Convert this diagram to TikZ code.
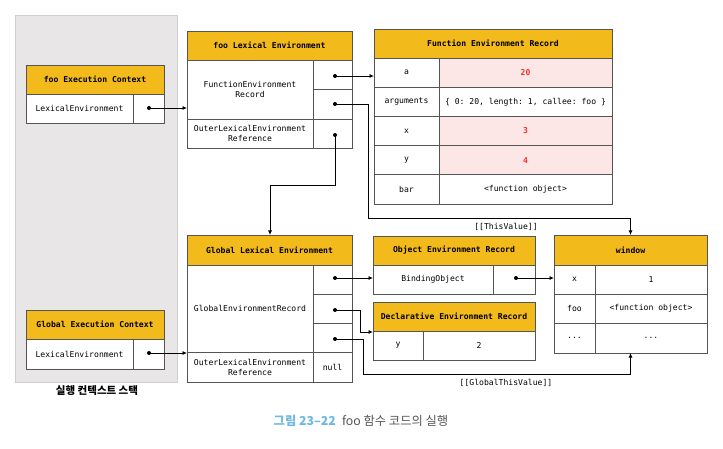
\documentclass[tikz,border=0pt]{standalone}
\usepackage{fontspec}
\setmonofont{DejaVu Sans Mono}
\newfontfamily\krfont{Noto Sans CJK KR}
\usetikzlibrary{arrows.meta}
\definecolor{hdr}{HTML}{F3BA1B}
\definecolor{pinkc}{HTML}{FDE6E6}
\definecolor{redc}{HTML}{EE3530}
\definecolor{lineg}{HTML}{555555}
\definecolor{panel}{HTML}{E8E6E7}
\definecolor{panelb}{HTML}{D0CECF}
\definecolor{capblue}{HTML}{6DB8E3}
\definecolor{capgray}{HTML}{555555}
\newcommand\mtxt{\ttfamily\fontsize{8.1}{10}\selectfont}
\newcommand\mbld{\ttfamily\bfseries\fontsize{8.1}{10}\selectfont}
\begin{document}
\begin{tikzpicture}[x=1pt,y=-1pt,
  cell/.style={draw=lineg, line width=0.9pt, fill=white, inner sep=0pt, outer sep=0pt, anchor=north west, align=center, font=\mtxt},
  hcell/.style={cell, fill=hdr, font=\mbld},
  pcell/.style={cell, fill=pinkc, text=redc, font=\mbld},
  dot/.style={circle, fill=black, inner sep=0pt, minimum size=4pt},
  conn/.style={line width=0.8pt, -{Latex[length=4.5pt,width=4pt]}},
  lbl/.style={font=\mtxt, inner sep=0pt}]
\useasboundingbox (0,0) rectangle (723,449);
% stack panel
\node[draw=panelb, fill=panel, line width=0.8pt, inner sep=0pt, anchor=north west, minimum width=162pt, minimum height=367pt] (panel) at (15,15) {};
\node[font=\krfont\bfseries\fontsize{10.5}{12}\selectfont, inner sep=0pt] (stacklbl) at (97,391) {실행 컨텍스트 스택};

% foo Execution Context
\node[hcell, minimum width=138pt, minimum height=29pt] (fecH) at (26,65) {foo Execution Context};
\node[cell, minimum width=107pt, minimum height=29pt] (fecL) at (26,94) {LexicalEnvironment};
\node[cell, minimum width=31pt, minimum height=29pt] (fecR) at (133,94) {};
\node[dot] (fec1) at (149,108) {};

% Global Execution Context
\node[hcell, minimum width=138pt, minimum height=29pt] (gecH) at (26,310) {Global Execution Context};
\node[cell, minimum width=107pt, minimum height=30pt] (gecL) at (26,339) {LexicalEnvironment};
\node[cell, minimum width=31pt, minimum height=30pt] (gecR) at (133,339) {};
\node[dot] (gec1) at (149,353) {};

% foo Lexical Environment
\node[hcell, minimum width=165pt, minimum height=29pt] (fleH) at (187,31) {foo Lexical Environment};
\node[cell, minimum width=126pt, minimum height=59pt] (fleF) at (187,60) {FunctionEnvironment\\Record};
\node[cell, minimum width=39pt, minimum height=29pt] (fleR1) at (313,60) {};
\node[cell, minimum width=39pt, minimum height=30pt] (fleR2) at (313,89) {};
\node[cell, minimum width=126pt, minimum height=29pt] (fleO) at (187,119) {OuterLexicalEnvironment\\Reference};
\node[cell, minimum width=39pt, minimum height=29pt] (fleR3) at (313,119) {};
\node[dot] (fle1) at (335,76) {};
\node[dot] (fle2) at (335,104) {};
\node[dot] (fle3) at (335,135) {};

% Function Environment Record
\node[hcell, minimum width=238pt, minimum height=29pt] (ferH) at (374,29) {Function Environment Record};
\node[cell, minimum width=65pt, minimum height=29.2pt] (ferK1) at (374,58) {a};
\node[pcell, minimum width=173pt, minimum height=29.2pt] (ferV1) at (439,58) {20};
\node[cell, minimum width=65pt, minimum height=29.2pt] (ferK2) at (374,87.2) {arguments};
\node[cell, minimum width=173pt, minimum height=29.2pt] (ferV2) at (439,87.2) {\{ 0: 20, length: 1, callee: foo \}};
\node[cell, minimum width=65pt, minimum height=29.2pt] (ferK3) at (374,116.4) {x};
\node[pcell, minimum width=173pt, minimum height=29.2pt] (ferV3) at (439,116.4) {3};
\node[cell, minimum width=65pt, minimum height=29.2pt] (ferK4) at (374,145.6) {y};
\node[pcell, minimum width=173pt, minimum height=29.2pt] (ferV4) at (439,145.6) {4};
\node[cell, minimum width=65pt, minimum height=29.2pt] (ferK5) at (374,174.8) {bar};
\node[cell, minimum width=173pt, minimum height=29.2pt] (ferV5) at (439,174.8) {<function object>};

% Global Lexical Environment
\node[hcell, minimum width=165pt, minimum height=30pt] (gleH) at (187,235) {Global Lexical Environment};
\node[cell, minimum width=126pt, minimum height=87pt] (gleG) at (187,265) {GlobalEnvironmentRecord};
\node[cell, minimum width=39pt, minimum height=29pt] (gleR1) at (313,265) {};
\node[cell, minimum width=39pt, minimum height=29pt] (gleR2) at (313,294) {};
\node[cell, minimum width=39pt, minimum height=29pt] (gleR3) at (313,323) {};
\node[cell, minimum width=126pt, minimum height=30pt] (gleO) at (187,352) {OuterLexicalEnvironment\\Reference};
\node[cell, minimum width=39pt, minimum height=30pt] (gleN) at (313,352) {null};
\node[dot] (gle1) at (335,278) {};
\node[dot] (gle2) at (335,310) {};
\node[dot] (gle3) at (335,339) {};

% Object Environment Record
\node[hcell, minimum width=162pt, minimum height=29pt] (oerH) at (373,236) {Object Environment Record};
\node[cell, minimum width=120pt, minimum height=29pt] (oerL) at (373,265) {BindingObject};
\node[cell, minimum width=42pt, minimum height=29pt] (oerR) at (493,265) {};
\node[dot] (oer1) at (516,278) {};

% Declarative Environment Record
\node[hcell, minimum width=162pt, minimum height=29pt] (derH) at (373,302) {Declarative Environment Record};
\node[cell, minimum width=50pt, minimum height=29pt] (derK) at (373,331) {y};
\node[cell, minimum width=112pt, minimum height=29pt] (derV) at (423,331) {2};

% window
\node[hcell, minimum width=153pt, minimum height=30pt] (winH) at (554,235) {window};
\node[cell, minimum width=41pt, minimum height=29pt] (winK1) at (554,265) {x};
\node[cell, minimum width=112pt, minimum height=29pt] (winV1) at (595,265) {1};
\node[cell, minimum width=41pt, minimum height=29pt] (winK2) at (554,294) {foo};
\node[cell, minimum width=112pt, minimum height=29pt] (winV2) at (595,294) {<function object>};
\node[cell, minimum width=41pt, minimum height=30pt] (winK3) at (554,323) {...};
\node[cell, minimum width=112pt, minimum height=30pt] (winV3) at (595,323) {...};

% bend points
\coordinate (b3a) at (368,104);
\coordinate (b3b) at (368,218);
\coordinate (b4a) at (335,185);
\coordinate (b4b) at (270,185);
\coordinate (b7a) at (360,310);
\coordinate (b7b) at (360,332);
\coordinate (b8a) at (363,339);
\coordinate (b8b) at (363,374);

% connectors
\draw[conn] (fec1.center) -- (fec1 -| fleF.west);
\draw[conn] (gec1.center) -- (gec1 -| gleO.west);
\draw[conn] (fle1.center) -- (fle1 -| ferK1.west);
\draw[conn] (fle2.center) -- (b3a) -- (b3b) -- (b3b -| winH.north) -- (winH.north);
\draw[conn] (fle3.center) -- (b4a) -- (b4b) -- (b4b |- gleH.north);
\draw[conn] (gle1.center) -- (gle1 -| oerL.west);
\draw[conn] (gle2.center) -- (b7a) -- (b7b) -- (b7b -| derK.west);
\draw[conn] (gle3.center) -- (b8a) -- (b8b) -- (b8b -| winH.center) -- (winK3.south -| winH.center);
\draw[conn] (oer1.center) -- (oer1 -| winK1.west);

\node[lbl] (thisv) at (506,227) {[[ThisValue]]};
\node[lbl] (gthisv) at (506,383) {[[GlobalThisValue]]};

% caption
\node[inner sep=0pt, font=\krfont\fontsize{12.3}{14}\selectfont] (cap) at (361,421) {\textcolor{capblue}{\bfseries 그림 23–22}\hspace{0.5em}\textcolor{capgray}{foo 함수 코드의 실행}};
\end{tikzpicture}
\end{document}
